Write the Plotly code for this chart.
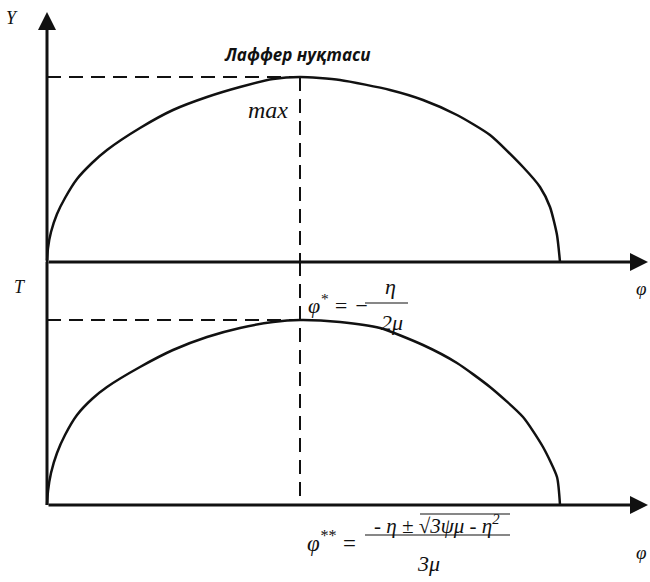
import plotly.graph_objects as go

# ---- data (arbitrary units) ----
# upper panel: Y(phi), Laffer curve
phi_top = [0, 1, 4, 10, 18, 30, 45, 60, 93, 126, 160, 193, 226, 253, 293, 343, 376, 410, 443, 476, 493, 503, 510, 513]
Y_top = [0, 14, 30, 48, 64, 83, 99, 112, 134, 152, 165, 175, 183, 185, 182, 172, 162, 147, 127, 95, 75, 55, 27, 0]
# lower panel: T(phi)
phi_bot = [0, 1, 4, 10, 18, 30, 45, 60, 93, 126, 160, 193, 226, 253, 293, 333, 376, 410, 443, 476, 496, 510, 513]
T_bot = [0, 14, 32, 52, 70, 90, 106, 118, 138, 155, 168, 177, 183, 185, 183, 177, 160, 142, 118, 88, 58, 28, 0]

phi_star = 253      # phi* (Laffer point)
Y_max = 185         # max of upper curve
T_max = 185         # max of lower curve
phi_axis_end = 601
Y_axis_end = 250
T_axis_top = 243    # lower vertical axis meets the upper phi axis

BLACK = "#111111"
SERIF = "Liberation Serif"

fig = go.Figure()
fig.add_trace(go.Scatter(x=phi_top, y=Y_top, mode="lines", line=dict(color=BLACK, width=2.5, shape="spline", smoothing=0.6),
                         hoverinfo="skip", showlegend=False))
fig.add_trace(go.Scatter(x=phi_bot, y=T_bot, mode="lines", yaxis="y2",
                         line=dict(color=BLACK, width=2.5, shape="spline", smoothing=0.6),
                         hoverinfo="skip", showlegend=False))

dash = "14px,8px"
shapes = [
    dict(type="line", xref="x", yref="y", x0=0, x1=phi_star, y0=Y_max, y1=Y_max, line=dict(color=BLACK, width=2, dash=dash)),
    dict(type="line", xref="x", yref="y", x0=phi_star, x1=phi_star, y0=Y_max, y1=0, line=dict(color=BLACK, width=2, dash=dash)),
    dict(type="line", xref="x", yref="y2", x0=0, x1=phi_star, y0=T_max, y1=T_max, line=dict(color=BLACK, width=2, dash=dash)),
    dict(type="line", xref="x", yref="y2", x0=phi_star, x1=phi_star, y0=T_axis_top, y1=0, line=dict(color=BLACK, width=2, dash=dash)),
    dict(type="line", xref="x", yref="y2", x0=0, x1=0, y0=0, y1=T_axis_top, line=dict(color=BLACK, width=3)),
    # fraction bars
    dict(type="line", xref="x", yref="y2", x0=318, x1=361, y0=202, y1=202, line=dict(color=BLACK, width=1.2)),
    dict(type="line", xref="x", yref="y2", x0=318, x1=463, y0=-30, y1=-30, line=dict(color=BLACK, width=1.2)),
    # radical overline
    dict(type="line", xref="x", yref="y2", x0=373, x1=463, y0=-9, y1=-9, line=dict(color=BLACK, width=1.2)),
]

ann = []
for yr, xe, ye in (("y", 0, Y_axis_end), ("y", phi_axis_end, 0), ("y2", phi_axis_end, 0)):
    ann.append(dict(x=xe, y=ye, ax=0, ay=0, xref="x", yref=yr, axref="x", ayref=yr, text="",
                    showarrow=True, arrowhead=2, arrowsize=1.2, arrowwidth=3, arrowcolor=BLACK, standoff=0))

def txt(x, y, s, yref="y", size=16, family=SERIF, xanchor="center"):
    ann.append(dict(x=x, y=y, xref="x", yref=yref, text="<i>" + s + "</i>", showarrow=False,
                    xanchor=xanchor, yanchor="middle",
                    font=dict(family=family, size=size, color=BLACK)))

txt(-35, 244, "Y", size=18)
txt(594, -26, "φ", size=19)
txt(-27, 218, "T", yref="y2", size=18)
txt(594, -47, "φ", yref="y2", size=19)
ann.append(dict(x=250, y=208, xref="x", yref="y", text="<b><i>Лаффер нуқтаси</i></b>", showarrow=False,
                font=dict(family="Open Sans", size=17, color=BLACK)))
txt(221, 152, "max", size=24)
# phi* = -eta / 2mu
txt(291, 201, "φ<sup>*</sup> = −", yref="y2", size=22)
txt(343, 219, "η", yref="y2", size=22)
txt(345, 183, "2μ", yref="y2", size=22)
# phi** = (-eta ± sqrt(3 psi mu - eta^2)) / 3mu
txt(285, -36, "φ<sup>**</sup> =", yref="y2", size=23)
txt(390, -19, "- η ± √3ψμ - η<sup>2</sup>", yref="y2", size=21)
txt(381, -58, "3μ", yref="y2", size=22)

fig.update_layout(
    width=650, height=582, margin=dict(l=0, r=0, t=0, b=0),
    paper_bgcolor="white", plot_bgcolor="white",
    xaxis=dict(range=[-47, 603], visible=False, fixedrange=True),
    yaxis=dict(range=[-320, 262], visible=False, fixedrange=True),
    yaxis2=dict(range=[-77, 505], visible=False, overlaying="y", fixedrange=True),
    shapes=shapes, annotations=ann,
)
fig.write_html("out.html", config={"displayModeBar": False},
               post_script="document.body.style.margin='0';document.body.style.overflow='hidden';")
